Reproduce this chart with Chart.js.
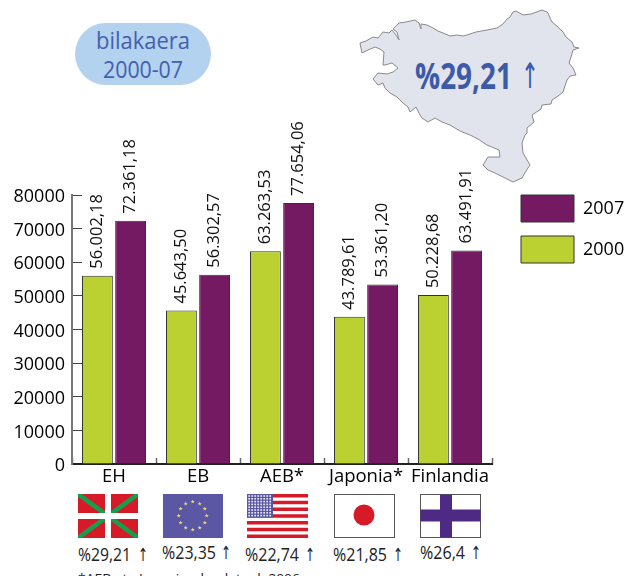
<!DOCTYPE html>
<html><head><meta charset="utf-8">
<style>
html,body{margin:0;padding:0;background:#fff;overflow:hidden;width:638px;height:576px}
#wrap{position:relative;width:638px;height:576px;overflow:hidden}
svg,canvas{position:absolute;left:0;top:0}
text{font-family:"Open Sans",sans-serif}
</style>
<script src="https://cdn.jsdelivr.net/npm/chart.js@4"></script>
</head><body><div id="wrap">
<svg id="deco" width="638" height="576" xmlns="http://www.w3.org/2000/svg"></svg>
<canvas id="c" width="638" height="576"></canvas>
</div>
<script>
const categories = ["EH","EB","AEB*","Japonia*","Finlandia"];
const tickLabels = [0,10000,20000,30000,40000,50000,60000,70000,80000];
const values2000 = [56002.18,45643.50,63263.53,43789.61,50228.68];
const values2007 = [72361.18,56302.57,77654.06,53361.20,63491.91];
const labels2000 = ["56.002,18","45.643,50","63.263,53","43.789,61","50.228,68"];
const labels2007 = ["72.361,18","56.302,57","77.654,06","53.361,20","63.491,91"];
const growth = ["%29,21","%23,35","%22,74","%21,85","%26,4"];
const GREEN="#bbd031", PURPLE="#741a62", EDGE="#333333";

const valueLabels = {
  id:"valueLabels",
  afterDatasetsDraw(chart){
    const ctx=chart.ctx;
    [labels2000,labels2007].forEach((txt,d)=>{
      chart.getDatasetMeta(d).data.forEach((bar,i)=>{
        ctx.save();
        ctx.translate(bar.x-0.5,bar.y-7);
        ctx.rotate(-Math.PI/2);
        ctx.font='16.5px "Open Sans"';
        ctx.fillStyle="#111";
        ctx.textAlign="left";ctx.textBaseline="middle";
        ctx.fillText(txt[i],0,0);
        ctx.restore();
      });
    });
  }
};
const placeLegend = {
  id:"placeLegend",
  afterLayout(chart){
    const l=chart.legend;
    l.left=521-14; l.top=195-14;
    l.right=l.left+l.width; l.bottom=l.top+l.height;
  }
};

new Chart(document.getElementById("c"),{
  type:"bar",
  data:{labels:categories,datasets:[
    {label:"2000",data:values2000,backgroundColor:GREEN,borderColor:EDGE,borderWidth:1,categoryPercentage:.79,barPercentage:.93},
    {label:"2007",data:values2007,backgroundColor:PURPLE,borderColor:EDGE,borderWidth:1,categoryPercentage:.79,barPercentage:.93}
  ]},
  plugins:[valueLabels,placeLegend],
  options:{
    responsive:false,animation:false,
    layout:{padding:{left:0,top:195,right:146,bottom:0}},
    plugins:{
      title:{display:false},tooltip:{enabled:false},
      legend:{position:"chartArea",align:"start",reverse:true,
        labels:{boxWidth:53,boxHeight:27,padding:14,color:"#000",font:{family:"Open Sans",size:18}}}
    },
    scales:{
      x:{
        grid:{drawOnChartArea:false,offset:true,tickLength:-6,color:"#666",tickWidth:1.5},
        border:{color:"#222",width:2},
        ticks:{color:"#000",font:{family:"Open Sans",size:18.5},padding:8,maxRotation:0,autoSkip:false},
        afterFit(s){s.height=576-464;}
      },
      y:{
        min:0,max:80000,
        afterBuildTicks(s){s.ticks=tickLabels.map(v=>({value:v}));},
        grid:{drawOnChartArea:false,tickLength:-10,color:"#444",tickWidth:1},
        border:{color:"#777",width:2},
        ticks:{color:"#000",font:{family:"Open Sans",size:18},padding:17,labelOffset:2,callback:v=>String(v)},
        afterFit(s){s.width=72;}
      }
    }
  }
});

/* decoration: map, pill and flags */
const mapOutline="360,43 366,41 373,37 378,38 383,32 389,33 392,30 396,35 399,40 397,32 393,29 399,23 406,22 415,20 419,23 421,29 421,24 427,25 433,28 438,31 443,33 450,36 457,35 463,36 467,35 476,32 487,30 497,28 503,24 507,19 510,17 513,12 516,11 523,15 531,14 542,10 547,12 548,13 551,20 552,22 558,27 563,32 566,37 572,42 574,47 579,48 573,50 571,57 569,63 573,68 576,75 570,76 567,80 565,86 563,92 558,96 552,100 551,104 542,105 541,109 532,115 534,122 527,128 527,133 525,135 522,143 523,153 530,165 526,171 522,178 513,182 503,177 495,173 488,170 483,165 488,157 500,157 499,150 487,145 478,139 470,135 460,131 450,125 442,122 435,118 428,122 422,118 420,115 416,107 410,112 408,107 403,103 397,97 390,93 385,88 383,83 378,85 373,79 378,73 387,74 393,72 398,68 392,63 385,65 383,65 384,52 380,49 375,47 368,50 362,53";
const starPts=(cx,cy,r)=>{let p=[];for(let i=0;i<10;i++){const a=-Math.PI/2+i*Math.PI/5,q=i%2?r*.4:r;p.push((cx+q*Math.cos(a)).toFixed(1)+","+(cy+q*Math.sin(a)).toFixed(1));}return p.join(" ");};
let eu="";for(let i=0;i<12;i++){const a=i*Math.PI/6;eu+=`<polygon points="${starPts(192.7+14*Math.sin(a),515.7-14*Math.cos(a),2.2)}" fill="#f4e25f"/>`;}
let us="";for(let i=0;i<7;i++){us+=`<rect x="247" y="${494+i*6.75}" width="61" height="3.5" fill="#d71a28"/>`;}
us+=`<rect x="247" y="494" width="26" height="23.5" fill="#5b57a5"/>`;
for(let r=0;r<8;r++)for(let c=0;c<8;c++){us+=`<rect x="${248.3+c*3}" y="${495.2+r*2.8}" width="1.7" height="1.6" fill="#e8e8f4"/>`;}
const bask=`<clipPath id="bk"><rect x="78" y="494" width="60" height="44"/></clipPath>
<rect x="78" y="494" width="60" height="44" fill="#d71a28"/>
<g clip-path="url(#bk)"><line x1="78" y1="494" x2="138" y2="538" stroke="#12a04f" stroke-width="4.500"/>
<line x1="138" y1="494" x2="78" y2="538" stroke="#12a04f" stroke-width="4.500"/></g>
<rect x="105" y="494" width="6" height="44" fill="#fff"/><rect x="78" y="513" width="60" height="6" fill="#fff"/>`;
const growthX=[78,162,245,333,420], growthY=[561,559,561,561,559], growthW=[53,54,54,54,45], arrowX=[138,221,305,393,471];
let pct="";growth.forEach((g,i)=>{
  pct+=`<text x="${growthX[i]}" y="${growthY[i]}" font-size="18.500" fill="#222" textLength="${growthW[i]}" lengthAdjust="spacingAndGlyphs">${g}</text>`;
  pct+=`<text x="${arrowX[i]}" y="${growthY[i]}" font-size="18" fill="#222" textLength="10" lengthAdjust="spacingAndGlyphs" style="font-family:'DejaVu Sans'">↑</text>`;
});
document.getElementById("deco").innerHTML=`
<rect x="75" y="23" width="136" height="62" rx="31" fill="#b3d2ef"/>
<text x="96" y="49" font-size="24" fill="#4360ae" textLength="94" lengthAdjust="spacingAndGlyphs">bilakaera</text>
<text x="103" y="78" font-size="24" fill="#4360ae" textLength="80" lengthAdjust="spacingAndGlyphs">2000-07</text>
<polygon points="${mapOutline}" fill="#e1e4ec" stroke="#8a8a8a" stroke-width="1"/>
<text x="415" y="89" font-size="36" font-weight="700" fill="#3c5aa8" textLength="97" lengthAdjust="spacingAndGlyphs">%29,21</text>
<text x="521" y="88" font-size="35" fill="#3c5aa8" textLength="18" lengthAdjust="spacingAndGlyphs" style="font-family:'DejaVu Sans'">↑</text>
${bask}
<rect x="163" y="494" width="60" height="44" fill="#5b57a5"/>${eu}
${us}
<rect x="334.500" y="494.500" width="60" height="43" fill="#fff" stroke="#555" stroke-width="1"/>
<circle cx="364" cy="515" r="10.500" fill="#d71a28"/>
<rect x="420.500" y="494.500" width="60" height="43" fill="#fff" stroke="#555" stroke-width="1"/>
<rect x="440" y="494.500" width="12" height="43" fill="#4e2a84"/>
<rect x="420.500" y="509.500" width="60" height="12" fill="#4e2a84"/>
${pct}
<text x="78" y="583" font-size="13" fill="#222" textLength="222" lengthAdjust="spacingAndGlyphs">*AEB eta Japoniarako datuak 2006</text>`;
</script>
</body></html>
